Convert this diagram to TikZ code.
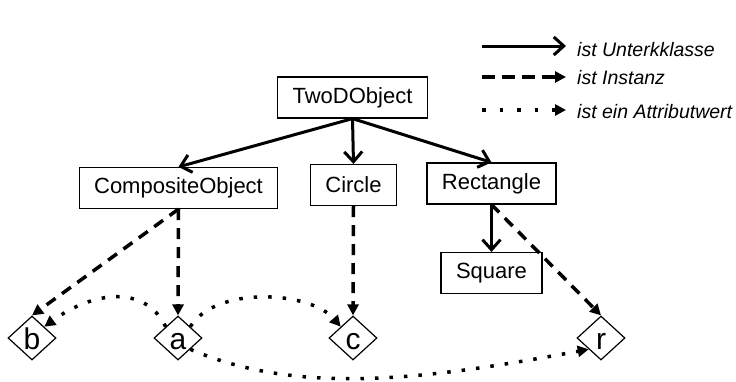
\documentclass[tikz,border=0pt]{standalone}
\usepackage{fontspec}
\setmainfont{Liberation Sans}
\usetikzlibrary{arrows.meta,shapes.geometric}
\begin{document}
\begin{tikzpicture}[x=1pt,y=-1pt,
  cls/.style={draw,line width=1.2pt,minimum height=41pt,inner xsep=15pt,inner ysep=0pt,font=\fontsize{22}{26}\selectfont},
  inst/.style={draw,diamond,line width=1.2pt,minimum width=48pt,minimum height=44pt,inner sep=0pt,text height=22pt,text depth=0pt,font=\fontsize{30}{32}\selectfont},
  sub/.style={line width=3pt,-{Straight Barb[length=10pt,width=18pt]}},
  isinst/.style={line width=3.5pt,dash pattern=on 11pt off 8pt,-{Triangle[length=11pt,width=11pt]}},
  attr/.style={line width=3.5pt,dash pattern=on 3.5pt off 11pt,-{Triangle[length=11pt,width=11pt]}},
  leg/.style={anchor=base west,inner sep=0pt,font=\fontsize{19.5}{22}\selectfont\itshape}]
\useasboundingbox (0,0) rectangle (736,381);

% class nodes
\node[cls] (two) at (352.5,97.5) {TwoDObject};
\node[cls] (comp) at (178.5,188) {CompositeObject};
\node[cls] (circ) at (353.5,185) {Circle};
\node[cls] (rect) at (491.5,183.5) {Rectangle};
\node[cls] (sq) at (491.5,273) {Square};

% instances
\node[inst] (b) at (32,338) {b};
\node[inst] (a) at (178,338) {a};
\node[inst] (c) at (353,338) {c};
\node[inst] (r) at (601,338) {r};

% subclass arrows
\draw[sub] (two.south) -- (comp.north);
\draw[sub] (two.south) -- (circ.north);
\draw[sub] (two.south) -- (rect.north);
\draw[sub] (rect.south) -- (sq.north);

% instance arrows
\draw[isinst] (comp.south) -- (b.north);
\draw[isinst] (comp.south) -- (a.north);
\draw[isinst] (circ.south) -- (c.north);
\draw[isinst] (rect.south) -- (r.north);

% attribute value arrows
\draw[attr] (a.north west) .. controls +(-21,-43) and +(48,-35) .. (b.north east);
\draw[attr] (a.north east) .. controls +(25,-41) and +(-31,-36) .. (c.north west);
\draw[attr] (a.south east) .. controls +(110,47) and +(-162,30) .. (r.south west);

% legend
\coordinate (l1s) at (482,46);  \coordinate (l1e) at (566,46);
\coordinate (l2s) at (482,77);  \coordinate (l2e) at (566,77);
\coordinate (l3s) at (482,110); \coordinate (l3e) at (566,110);
\draw[sub] (l1s) -- (l1e);
\draw[isinst,dash pattern=on 13pt off 7pt] (l2s) -- (l2e);
\draw[attr,dash pattern=on 3.5pt off 14pt] (l3s) -- (l3e);
\node[leg] (t1) at (577,56) {ist Unterkklasse};
\node[leg] (t2) at (577,84) {ist Instanz};
\node[leg] (t3) at (577,118) {ist ein Attributwert};
\end{tikzpicture}
\end{document}
